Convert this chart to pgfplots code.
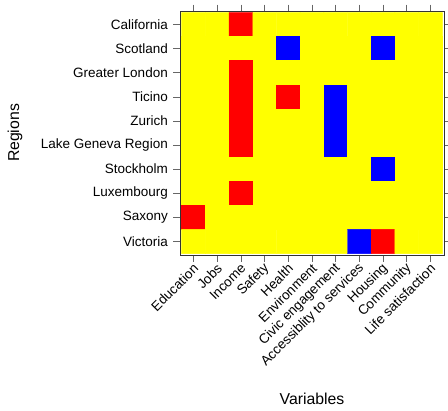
\documentclass[border=0pt]{standalone}
\usepackage{fontspec}
\setmainfont{Liberation Sans}
\usepackage{pgfplots}
\pgfplotsset{compat=1.18}
\begin{document}
\begin{tikzpicture}
\useasboundingbox (-180bp,-156bp) rectangle (268bp,255bp);
\begin{axis}[
  at={(0,0)}, anchor=south west,
  scale only axis, width=264bp, height=244bp,
  xmin=-0.57, xmax=10.57, ymin=-0.56, ymax=9.56,
  y dir=reverse,
  xtick={0,...,10}, ytick={0,...,9},
  xticklabels={Education,Jobs,Income,Safety,Health,Environment,Civic engagement,Accessiblity to services,Housing,Community,Life satisfaction},
  yticklabels={California,Scotland,Greater London,Ticino,Zurich,Lake Geneva Region,Stockholm,Luxembourg,Saxony,Victoria},
  tick label style={font=\fontsize{13.5bp}{15bp}\selectfont, text=black},
  xticklabel style={rotate=45, anchor=east, inner sep=2.5bp, yshift=-5bp, xshift=1bp},
  yticklabel style={inner sep=5.5bp},
  tick align=outside, major tick length=6.5bp,
  tick style={black!60, line width=0.6pt},
  axis line style={black!80, line width=0.8pt},
  xlabel={Variables}, ylabel={Regions},
  label style={font=\fontsize{15.8bp}{18bp}\selectfont, text=black},
  xlabel style={at={(axis description cs:0.5,-0.59)}, anchor=center},
  ylabel style={at={(axis description cs:-0.625,0.5)}, anchor=center, rotate=0},
  colormap={ryb}{rgb255=(0,0,255) rgb255=(255,255,0) rgb255=(255,0,0)},
  colormap access=piecewise constant,
  point meta min=-1, point meta max=1,
]
\addplot[matrix plot*, mesh/cols=11, point meta=explicit] table[meta=c, row sep=\\] {
x y c \\
0 0 0 \\ 1 0 0 \\ 2 0 1 \\ 3 0 0 \\ 4 0 0 \\ 5 0 0 \\ 6 0 0 \\ 7 0 0 \\ 8 0 0 \\ 9 0 0 \\ 10 0 0 \\
0 1 0 \\ 1 1 0 \\ 2 1 0 \\ 3 1 0 \\ 4 1 -1 \\ 5 1 0 \\ 6 1 0 \\ 7 1 0 \\ 8 1 -1 \\ 9 1 0 \\ 10 1 0 \\
0 2 0 \\ 1 2 0 \\ 2 2 1 \\ 3 2 0 \\ 4 2 0 \\ 5 2 0 \\ 6 2 0 \\ 7 2 0 \\ 8 2 0 \\ 9 2 0 \\ 10 2 0 \\
0 3 0 \\ 1 3 0 \\ 2 3 1 \\ 3 3 0 \\ 4 3 1 \\ 5 3 0 \\ 6 3 -1 \\ 7 3 0 \\ 8 3 0 \\ 9 3 0 \\ 10 3 0 \\
0 4 0 \\ 1 4 0 \\ 2 4 1 \\ 3 4 0 \\ 4 4 0 \\ 5 4 0 \\ 6 4 -1 \\ 7 4 0 \\ 8 4 0 \\ 9 4 0 \\ 10 4 0 \\
0 5 0 \\ 1 5 0 \\ 2 5 1 \\ 3 5 0 \\ 4 5 0 \\ 5 5 0 \\ 6 5 -1 \\ 7 5 0 \\ 8 5 0 \\ 9 5 0 \\ 10 5 0 \\
0 6 0 \\ 1 6 0 \\ 2 6 0 \\ 3 6 0 \\ 4 6 0 \\ 5 6 0 \\ 6 6 0 \\ 7 6 0 \\ 8 6 -1 \\ 9 6 0 \\ 10 6 0 \\
0 7 0 \\ 1 7 0 \\ 2 7 1 \\ 3 7 0 \\ 4 7 0 \\ 5 7 0 \\ 6 7 0 \\ 7 7 0 \\ 8 7 0 \\ 9 7 0 \\ 10 7 0 \\
0 8 1 \\ 1 8 0 \\ 2 8 0 \\ 3 8 0 \\ 4 8 0 \\ 5 8 0 \\ 6 8 0 \\ 7 8 0 \\ 8 8 0 \\ 9 8 0 \\ 10 8 0 \\
0 9 0 \\ 1 9 0 \\ 2 9 0 \\ 3 9 0 \\ 4 9 0 \\ 5 9 0 \\ 6 9 0 \\ 7 9 -1 \\ 8 9 1 \\ 9 9 0 \\ 10 9 0 \\
};
\end{axis}
\end{tikzpicture}
\end{document}
